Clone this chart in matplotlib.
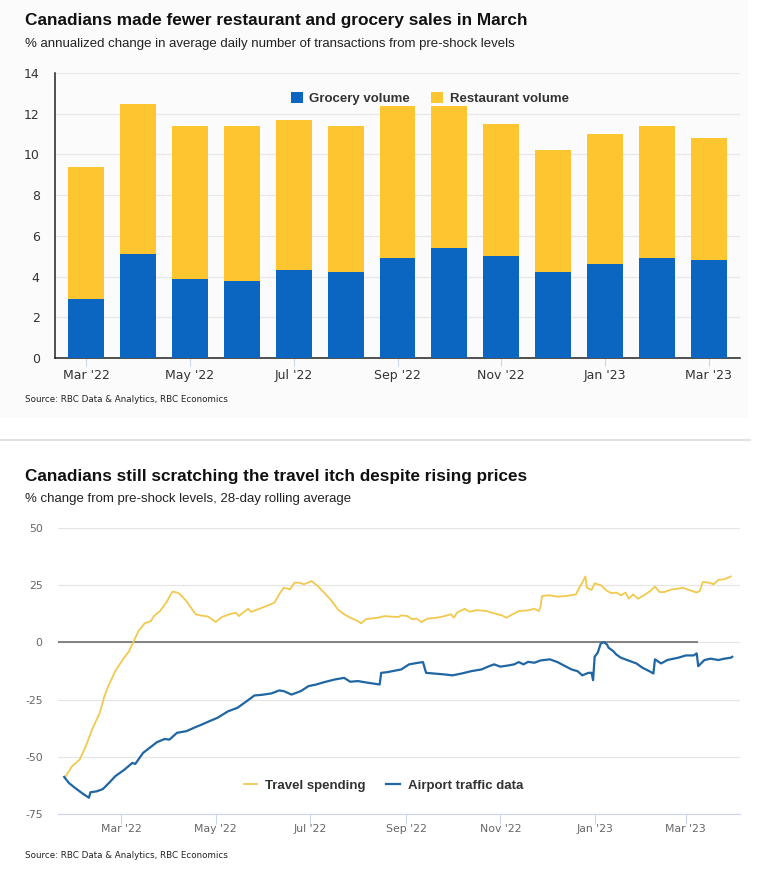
import numpy as np
import pandas as pd
import matplotlib
matplotlib.use('Agg')
import matplotlib.pyplot as plt
import matplotlib.dates as mdates
from matplotlib.patches import Rectangle
from matplotlib.lines import Line2D

plt.rcParams['axes.unicode_minus'] = False

# ---------------- data: top chart ----------------
months = ["Mar '22", "Apr '22", "May '22", "Jun '22", "Jul '22", "Aug '22", "Sep '22",
          "Oct '22", "Nov '22", "Dec '22", "Jan '23", "Feb '23", "Mar '23"]
grocery = [2.9, 5.1, 3.9, 3.8, 4.3, 4.2, 4.9, 5.4, 5.0, 4.2, 4.6, 4.9, 4.8]
total = [9.4, 12.5, 11.4, 11.4, 11.7, 11.4, 12.4, 12.4, 11.5, 10.2, 11.0, 11.4, 10.8]
restaurant = [t - g for t, g in zip(total, grocery)]

# ---------------- data: bottom chart (days from 2022-03-01) ----------------
travel_days = [-36, -32, -27, -23, -19, -14, -11, -8, -4, 1, 5, 8, 11, 15, 19, 21, 25, 29,
               33, 36, 38, 42, 45, 48, 51, 56, 61, 65, 70, 74, 76, 78, 82, 84, 88, 95, 99,
               102, 105, 109, 112, 115, 118, 123, 127, 131, 136, 140, 144, 148, 153, 155,
               158, 161, 166, 170, 174, 179, 181, 185, 188, 191, 194, 198, 204, 209, 213,
               215, 217, 222, 225, 230, 236, 241, 246, 249, 253, 257, 263, 267, 270, 271,
               272, 277, 282, 288, 294, 296, 298, 300, 301, 304, 306, 310, 314, 317, 320,
               323, 326, 328, 331, 334, 338, 342, 345, 348, 351, 356, 360, 363, 367, 372,
               374, 376, 380, 383, 386, 390, 394]
travel = [-58.5, -54.2, -51.2, -45.4, -38.1, -30.8, -23.5, -18.4, -12.6, -7.4, -3.8, 0.6,
          4.9, 8.3, 9.3, 11.5, 13.7, 17.4, 22.2, 21.8, 21.0, 18.1, 15.2, 12.3, 11.8, 11.3,
          8.9, 11.1, 12.3, 13.0, 11.5, 12.7, 14.7, 13.3, 14.4, 16.2, 17.4, 21.0, 23.9,
          23.2, 26.1, 26.1, 25.4, 26.8, 24.6, 21.8, 18.1, 14.4, 12.3, 10.8, 9.3, 8.3,
          10.1, 10.4, 10.8, 11.5, 11.3, 11.1, 11.8, 11.5, 10.1, 10.4, 8.9, 10.4, 10.8,
          11.5, 12.3, 10.8, 13.0, 14.7, 13.4, 14.1, 13.7, 12.7, 11.8, 10.8, 12.3, 13.7,
          14.0, 14.7, 13.7, 15.6, 20.3, 20.6, 20.0, 20.3, 21.0, 23.9, 26.1, 28.8, 23.9,
          22.9, 25.8, 25.0, 22.5, 21.5, 21.8, 20.6, 21.8, 19.1, 21.0, 19.1, 20.6, 22.5,
          24.4, 22.0, 22.0, 23.2, 23.5, 23.9, 22.9, 21.8, 22.5, 26.4, 26.1, 25.4, 27.3,
          27.6, 28.8]

airport_days = [-37, -34, -30, -25, -21, -20, -16, -12, -8, -4, 2, 7, 9, 14, 19, 23, 28,
                31, 36, 42, 47, 52, 57, 62, 69, 71, 75, 81, 86, 91, 97, 102, 105, 110, 116,
                121, 126, 131, 138, 144, 148, 153, 159, 167, 168, 172, 181, 186, 192, 195,
                197, 202, 209, 214, 220, 226, 233, 237, 241, 245, 250, 254, 257, 260, 263,
                267, 271, 277, 282, 287, 291, 295, 298, 302, 304, 305, 306, 308, 310, 312,
                314, 315, 318, 320, 323, 329, 333, 337, 342, 344, 345, 349, 353, 360, 365,
                370, 372, 373, 377, 381, 386, 390, 394, 395]
airport = [-58.8, -61.4, -63.6, -66.1, -67.9, -65.5, -65.1, -64.1, -61.4, -58.5, -55.6,
           -52.7, -53.1, -48.3, -45.7, -43.6, -42.2, -42.5, -39.5, -38.8, -37.3, -35.9,
           -34.4, -33.0, -30.1, -29.6, -28.6, -25.7, -23.2, -22.9, -22.3, -21.0, -21.3,
           -22.8, -21.3, -19.1, -18.4, -17.4, -16.2, -15.5, -17.2, -16.9, -17.6, -18.4,
           -13.3, -13.0, -11.8, -9.6, -8.9, -8.6, -13.3, -13.6, -14.0, -14.4, -13.6,
           -12.6, -11.8, -10.6, -9.6, -10.6, -10.1, -9.6, -8.6, -9.6, -8.5, -8.9, -7.9,
           -7.4, -8.6, -10.4, -11.8, -12.6, -14.4, -13.3, -13.3, -16.5, -6.3, -4.5, -0.4,
           0.1, -0.9, -2.3, -3.8, -5.3, -6.7, -8.2, -9.2, -11.1, -12.8, -13.6, -7.4, -9.2,
           -7.7, -6.7, -5.7, -5.7, -4.8, -10.4, -7.7, -7.1, -7.7, -7.1, -6.7, -6.3]

base = pd.Timestamp('2022-03-01')
travel_dates = base + pd.to_timedelta(travel_days, unit='D')
airport_dates = base + pd.to_timedelta(airport_days, unit='D')

# ---------------- styling ----------------
title_font = ['Liberation Sans', 'DejaVu Sans']
tick_font = ['DejaVu Sans']
blue = '#0b66c2'
yellow = '#fdc52f'
line_yellow = '#f1c94f'
line_blue = '#1f66a3'

fig = plt.figure(figsize=(7.8, 8.81), dpi=100)

# top panel background and separator
fig.patches.append(Rectangle((0, 1 - 418 / 881), 748 / 780, 418 / 881,
                             transform=fig.transFigure, facecolor='#fbfbfb',
                             edgecolor='none', zorder=-5))
fig.lines.append(Line2D([0, 750 / 780], [1 - 440 / 881] * 2, transform=fig.transFigure,
                        color='#e2e2e2', lw=1.5, zorder=-5))

# ---------------- top chart ----------------
fig.text(25 / 780, 1 - 20 / 881, 'Canadians made fewer restaurant and grocery sales in March',
         fontsize=12.4, fontweight='bold', family=title_font, va='center', color='#111111')
fig.text(25 / 780, 1 - 44 / 881,
         '% annualized change in average daily number of transactions from pre-shock levels',
         fontsize=9.5, family=title_font, va='center', color='#222222')

ax1 = fig.add_axes([55 / 780, 1 - 358 / 881, 685 / 780, 285 / 881])
ax1.set_facecolor('none')
x = np.arange(len(months))
ax1.bar(x, grocery, width=0.69, color=blue, label='Grocery volume', zorder=3)
ax1.bar(x, restaurant, width=0.69, bottom=grocery, color=yellow, label='Restaurant volume', zorder=3)
ax1.set_xlim(-0.6, 12.6)
ax1.set_ylim(0, 14)
ax1.set_yticks(range(0, 15, 2))
ax1.set_xticks(x[::2])
ax1.set_xticklabels(months[::2])
ax1.grid(axis='y', color='#e8e8e8', lw=0.9, zorder=0)
for s in ['top', 'right']:
    ax1.spines[s].set_visible(False)
ax1.spines['left'].set_color('#222222')
ax1.spines['bottom'].set_color('#222222')
ax1.spines['left'].set_linewidth(1.1)
ax1.spines['bottom'].set_linewidth(1.1)
ax1.tick_params(axis='y', length=0, pad=11, labelsize=9, labelcolor='#333333')
ax1.tick_params(axis='x', length=6, width=0.8, color='#ccd6eb', pad=2, labelsize=9,
                labelcolor='#333333')
for lab in ax1.get_xticklabels() + ax1.get_yticklabels():
    lab.set_family(tick_font)
leg1 = ax1.legend(loc='center', bbox_to_anchor=(0.547, 0.91), ncol=2, frameon=False,
                  handlelength=0.9, handleheight=0.9, handletextpad=0.5, columnspacing=1.6,
                  prop={'family': title_font, 'weight': 'bold', 'size': 9.5})
for t in leg1.get_texts():
    t.set_color('#333333')
fig.text(25 / 780, 1 - 400 / 881, 'Source: RBC Data & Analytics, RBC Economics',
         fontsize=6.3, family=tick_font, va='center', color='#222222')

# ---------------- bottom chart ----------------
fig.text(25 / 780, 1 - 477 / 881, 'Canadians still scratching the travel itch despite rising prices',
         fontsize=12.3, fontweight='bold', family=title_font, va='center', color='#111111')
fig.text(25 / 780, 1 - 499 / 881, '% change from pre-shock levels, 28-day rolling average',
         fontsize=9.5, family=title_font, va='center', color='#222222')

ax2 = fig.add_axes([58 / 780, 1 - 814 / 881, 682 / 780, 286 / 881])
ax2.plot(travel_dates, travel, color=line_yellow, lw=1.3, label='Travel spending', zorder=3)
ax2.plot(airport_dates, airport, color=line_blue, lw=1.6, label='Airport traffic data', zorder=3)
x0 = pd.Timestamp('2022-01-19')
x1 = pd.Timestamp('2023-04-05')
ax2.hlines(0, x0, pd.Timestamp('2023-03-09'), color='#6e6e6e', lw=1.2, zorder=2)
ax2.set_xlim(x0, x1)
ax2.set_ylim(-75, 50)
ax2.set_yticks([-75, -50, -25, 0, 25, 50])
ax2.grid(axis='y', color='#e6e6e6', lw=0.9, zorder=0)
for s in ['top', 'right', 'left']:
    ax2.spines[s].set_visible(False)
ax2.spines['bottom'].set_color('#ccd6eb')
ax2.xaxis.set_major_locator(mdates.MonthLocator(bymonth=[1, 3, 5, 7, 9, 11]))
ax2.xaxis.set_major_formatter(mdates.DateFormatter("%b '%y"))
ax2.tick_params(axis='y', length=0, pad=11, labelsize=7.8, labelcolor='#666666')
ax2.tick_params(axis='x', length=7, width=0.8, color='#ccd6eb', pad=0.5, labelsize=7.8,
                labelcolor='#666666')
for lab in ax2.get_xticklabels() + ax2.get_yticklabels():
    lab.set_family(tick_font)
leg2 = ax2.legend(loc='center', bbox_to_anchor=(0.477, 0.098), ncol=2, frameon=False,
                  handlelength=1.0, handletextpad=0.6, columnspacing=1.6,
                  prop={'family': title_font, 'weight': 'bold', 'size': 9.5})
for t in leg2.get_texts():
    t.set_color('#333333')
fig.text(25 / 780, 1 - 855 / 881, 'Source: RBC Data & Analytics, RBC Economics',
         fontsize=6.3, family=tick_font, va='center', color='#222222')

fig.savefig('out.png', dpi=100)
